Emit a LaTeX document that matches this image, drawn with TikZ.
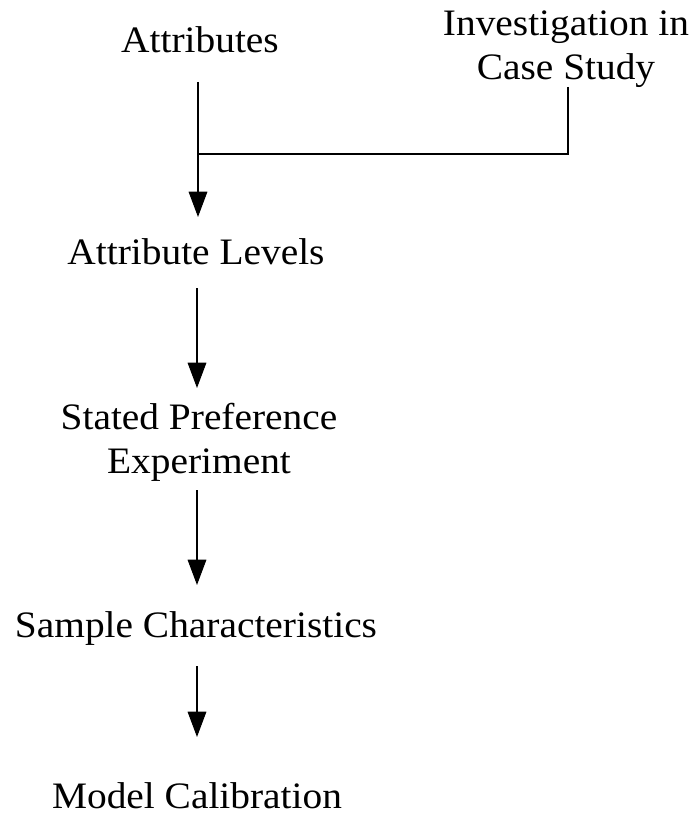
\documentclass[tikz,border=0pt]{standalone}
\usepackage{fontspec}
\setmainfont{Liberation Serif}[FakeStretch=1.055]
\usetikzlibrary{arrows.meta,calc}
\begin{document}
\begin{tikzpicture}[x=0.75pt,y=-0.75pt,
  label/.style={inner sep=0pt,font=\fontsize{28}{33}\selectfont,align=center,anchor=base},
  flow/.style={line width=0.8pt,-{Triangle[length=19pt,width=14pt]}},
  link/.style={line width=0.8pt}]
\useasboundingbox (0,0) rectangle (694,816);
% labels of the flow chart (placed on their baselines)
\node[label] (attr) at (200,53) {Attributes};
\node[label] (invest) at (566,80) {Investigation in\\Case Study};
\node[label] (levels) at (196,265) {Attribute Levels};
\node[label] (stated) at (199,473) {Stated Preference\\Experiment};
\node[label] (sample) at (196,637) {Sample Characteristics};
\node[label] (model) at (197,808) {Model Calibration};
% junction where the case study line joins the main flow
\coordinate (join) at (198,154);
% connectors
\draw[flow] ($(attr.base -| join)+(0,29)$) -- ($(levels.base -| join)+(0,-48)$);
\draw[link] ($(invest.base)+(2,7)$) |- (join);
\draw[flow] ($(levels.base)+(1,23)$) -- ($(stated.base)+(-2,-85)$);
\draw[flow] ($(stated.base)+(-2,17)$) -- ($(sample.base)+(1,-52)$);
\draw[flow] ($(sample.base)+(1,29)$) -- ($(model.base)+(0,-71)$);
\end{tikzpicture}
\end{document}
